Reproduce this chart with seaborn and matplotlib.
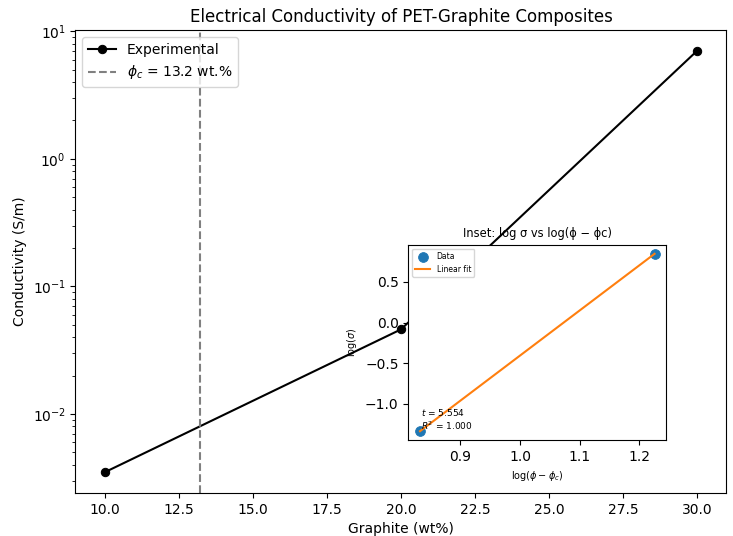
import numpy as np
import pandas as pd
import matplotlib
matplotlib.use("Agg")
import matplotlib.pyplot as plt
import seaborn as sns

graphite_wt = [10.0, 20.0, 30.0]
conductivity = [0.0035, 0.046, 7.0]
phi_c = 13.2
fit_text = "$t$ = 5.554\n$R^2$ = 1.000"

plt.rcParams['font.family'] = ['DejaVu Sans']

fig = plt.figure(figsize=(7.33, 5.36), dpi=100)
ax = fig.add_axes([0.103, 0.08, 0.888, 0.864])

df = pd.DataFrame({"wt": graphite_wt, "sigma": conductivity})
sns.lineplot(data=df, x="wt", y="sigma", marker="o", color="black",
             markersize=6, markeredgecolor="black", label="Experimental", ax=ax)
ax.axvline(phi_c, color="gray", linestyle="--", label=r"$\phi_c$ = 13.2 wt.%")
ax.set_yscale("log")
ax.set_xlabel("Graphite (wt%)")
ax.set_ylabel("Conductivity (S/m)")
ax.set_title("Electrical Conductivity of PET-Graphite Composites")
ax.legend(loc="upper left")

# inset
x_log = np.log10(np.array(graphite_wt[1:]) - phi_c)
y_log = np.log10(np.array(conductivity[1:]))
slope, intercept = np.polyfit(x_log, y_log, 1)

axin = fig.add_axes([0.557, 0.179, 0.352, 0.364])
sns.scatterplot(x=x_log, y=y_log, s=50, color="C0", edgecolor="C0", label="Data", ax=axin)
sns.lineplot(x=x_log, y=slope * x_log + intercept, color="C1", label="Linear fit", ax=axin)
axin.set_title("Inset: log σ vs log(ϕ − ϕc)", fontsize=8.3)
axin.set_xlabel(r"$\log(\phi - \phi_c)$", fontsize=7)
axin.set_ylabel(r"$\log(\sigma)$", fontsize=7)
axin.tick_params(labelsize=10)
axin.legend(loc="upper left", fontsize=5.5)
axin.text(0.05, 0.05, fit_text, transform=axin.transAxes, fontsize=6.5)

fig.savefig("out.png", dpi=100)
